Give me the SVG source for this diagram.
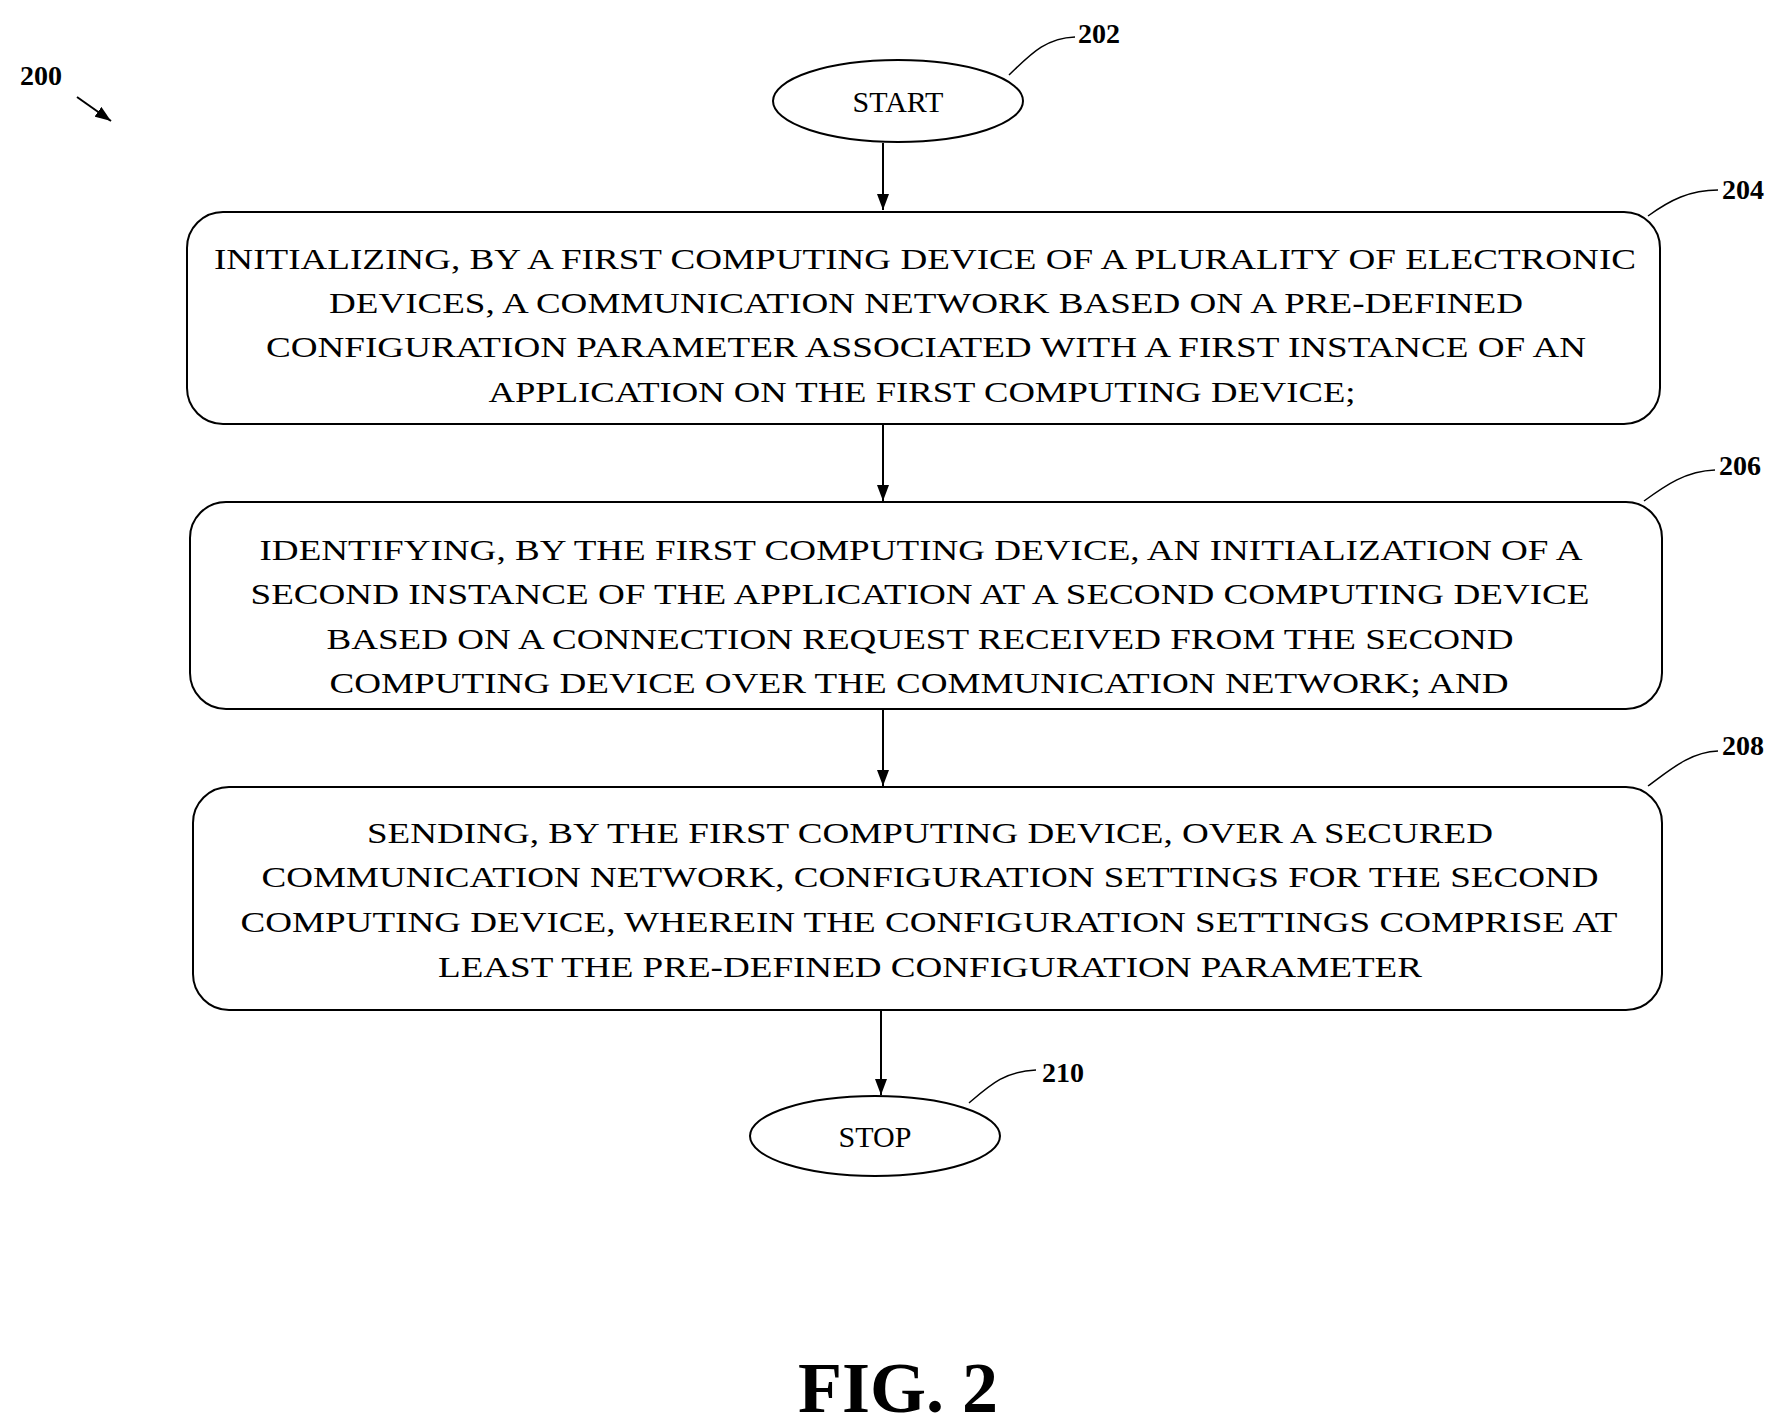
<svg xmlns="http://www.w3.org/2000/svg" width="1790" height="1425" viewBox="0 0 1790 1425">
<defs>
<marker id="ah" markerWidth="12" markerHeight="16" refX="6" refY="16" orient="auto" markerUnits="userSpaceOnUse" viewBox="0 0 12 16">
<path d="M0,0 L12,0 L6,16 Z" fill="#000" transform="rotate(0)"/>
</marker>
<marker id="ah2" markerWidth="16" markerHeight="12" refX="16" refY="6" orient="auto" markerUnits="userSpaceOnUse">
<path d="M0,0 L16,6 L0,12 Z" fill="#000"/>
</marker>
<style>
.shape{fill:#fff;stroke:#000;stroke-width:2}
.t{font-family:"Liberation Serif","Times New Roman",serif;font-size:30px;text-anchor:middle;dominant-baseline:central;fill:#000}
.lbl{font-family:"Liberation Serif","Times New Roman",serif;font-size:28px;font-weight:bold;fill:#000;dominant-baseline:central}
.lead{fill:none;stroke:#000;stroke-width:1.5}
.conn{stroke:#000;stroke-width:2;fill:none}
</style>
</defs>
<rect width="1790" height="1425" fill="#fff"/>
<g id="connectors">
<line class="conn" x1="883" y1="143" x2="883" y2="210" marker-end="url(#ah2)"/>
<line class="conn" x1="883" y1="424" x2="883" y2="501" marker-end="url(#ah2)"/>
<line class="conn" x1="883" y1="709" x2="883" y2="786" marker-end="url(#ah2)"/>
<line class="conn" x1="881" y1="1010" x2="881" y2="1095" marker-end="url(#ah2)"/>
</g>
<g id="ref200">
<text class="lbl" x="20" y="75">200</text>
<line class="conn" x1="77" y1="97" x2="111" y2="121" marker-end="url(#ah2)"/>
</g>
<g id="n202">
<ellipse class="shape" cx="898" cy="101" rx="125" ry="41"/>
<text class="t" x="898" y="101">START</text>
<path class="lead" d="M1009,75 C1030,55 1045,38 1075,37"/>
<text class="lbl" x="1078" y="33">202</text>
</g>
<g id="n204">
<rect class="shape" x="187" y="212" width="1473" height="212" rx="36"/>
<text class="t" x="925" y="258" textLength="1422" lengthAdjust="spacingAndGlyphs">INITIALIZING, BY A FIRST COMPUTING DEVICE OF A PLURALITY OF ELECTRONIC</text>
<text class="t" x="926" y="302" textLength="1194" lengthAdjust="spacingAndGlyphs">DEVICES, A COMMUNICATION NETWORK BASED ON A PRE-DEFINED</text>
<text class="t" x="926" y="346" textLength="1320" lengthAdjust="spacingAndGlyphs">CONFIGURATION PARAMETER ASSOCIATED WITH A FIRST INSTANCE OF AN</text>
<text class="t" x="922" y="391" textLength="867" lengthAdjust="spacingAndGlyphs">APPLICATION ON THE FIRST COMPUTING DEVICE;</text>
<path class="lead" d="M1648,216 C1670,200 1690,190 1718,190"/>
<text class="lbl" x="1722" y="189">204</text>
</g>
<g id="n206">
<rect class="shape" x="190" y="502" width="1472" height="207" rx="36"/>
<text class="t" x="921" y="549" textLength="1323" lengthAdjust="spacingAndGlyphs">IDENTIFYING, BY THE FIRST COMPUTING DEVICE, AN INITIALIZATION OF A</text>
<text class="t" x="920" y="593" textLength="1339" lengthAdjust="spacingAndGlyphs">SECOND INSTANCE OF THE APPLICATION AT A SECOND COMPUTING DEVICE</text>
<text class="t" x="920" y="638" textLength="1187" lengthAdjust="spacingAndGlyphs">BASED ON A CONNECTION REQUEST RECEIVED FROM THE SECOND</text>
<text class="t" x="919" y="682" textLength="1179" lengthAdjust="spacingAndGlyphs">COMPUTING DEVICE OVER THE COMMUNICATION NETWORK; AND</text>
<path class="lead" d="M1644,501 C1666,485 1686,471 1715,470"/>
<text class="lbl" x="1719" y="465">206</text>
</g>
<g id="n208">
<rect class="shape" x="193" y="787" width="1469" height="223" rx="36"/>
<text class="t" x="930" y="832" textLength="1126" lengthAdjust="spacingAndGlyphs">SENDING, BY THE FIRST COMPUTING DEVICE, OVER A SECURED</text>
<text class="t" x="930" y="876" textLength="1337" lengthAdjust="spacingAndGlyphs">COMMUNICATION NETWORK, CONFIGURATION SETTINGS FOR THE SECOND</text>
<text class="t" x="929" y="921" textLength="1377" lengthAdjust="spacingAndGlyphs">COMPUTING DEVICE, WHEREIN THE CONFIGURATION SETTINGS COMPRISE AT</text>
<text class="t" x="930" y="966" textLength="984" lengthAdjust="spacingAndGlyphs">LEAST THE PRE-DEFINED CONFIGURATION PARAMETER</text>
<path class="lead" d="M1648,786 C1670,770 1690,752 1718,751"/>
<text class="lbl" x="1722" y="745">208</text>
</g>
<g id="n210">
<ellipse class="shape" cx="875" cy="1136" rx="125" ry="40"/>
<text class="t" x="875" y="1136">STOP</text>
<path class="lead" d="M969,1103 C990,1085 1005,1071 1036,1070"/>
<text class="lbl" x="1042" y="1072">210</text>
</g>
<g id="caption">
<text x="898" y="1388" font-family="Liberation Serif, Times New Roman, serif" font-size="72" font-weight="bold" text-anchor="middle" dominant-baseline="central">FIG. 2</text>
</g>
</svg>
